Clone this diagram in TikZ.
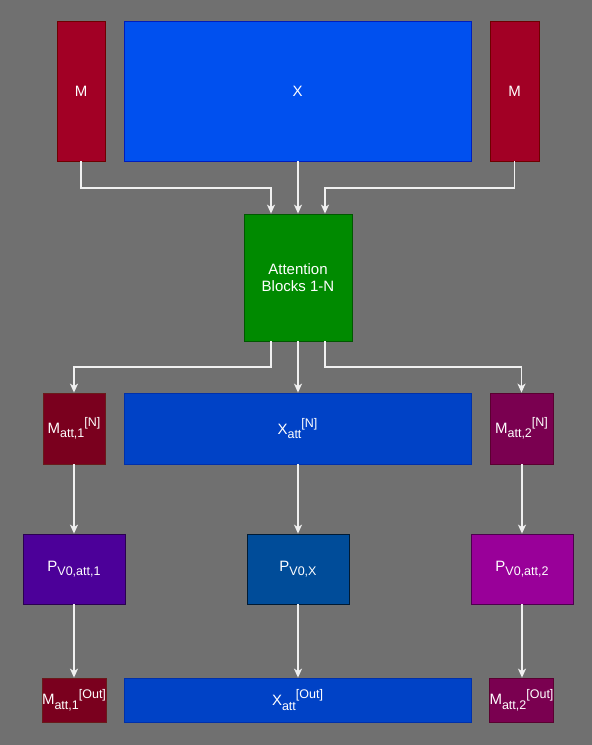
\documentclass[tikz,border=0pt]{standalone}
\usepackage{fontspec}
\setmainfont{Liberation Sans}
\usetikzlibrary{arrows.meta}
\definecolor{bg}{HTML}{707070}
\definecolor{mred}{HTML}{A20025}
\definecolor{mredb}{HTML}{6F0000}
\definecolor{xblue}{HTML}{0050EF}
\definecolor{xblueb}{HTML}{001DBC}
\definecolor{agreen}{HTML}{008A00}
\definecolor{agreenb}{HTML}{005700}
\definecolor{mdred}{HTML}{7A001E}
\definecolor{mdredb}{HTML}{6A1A1A}
\definecolor{xdblue}{HTML}{0042C6}
\definecolor{xdblueb}{HTML}{0030AA}
\definecolor{mpurp}{HTML}{7A0050}
\definecolor{mpurpb}{HTML}{5A0030}
\definecolor{pviol}{HTML}{4C0099}
\definecolor{pviolb}{HTML}{2A0050}
\definecolor{pblue}{HTML}{004C99}
\definecolor{pblueb}{HTML}{001A33}
\definecolor{pmag}{HTML}{990099}
\definecolor{pmagb}{HTML}{4C004C}
\definecolor{edge}{HTML}{F0F0F0}
\newcommand\mysb[1]{\raisebox{-0.3em}{\fontsize{12.5}{13}\selectfont #1}}
\newcommand\mysp[1]{\raisebox{0.45em}{\fontsize{12.5}{13}\selectfont #1}}
\begin{document}
\begin{tikzpicture}[x=1pt,y=-1pt,
  box/.style={draw,line width=0.8pt,inner sep=0pt,text=white,font=\fontsize{15}{17}\selectfont,align=center},
  conn/.style={draw=edge,line width=1.3pt,-{Stealth[length=9pt,width=8pt,inset=2.5pt]}}]
\useasboundingbox[fill=bg] (0,0) rectangle (592,745);
% row 1
\node[box,fill=mred,draw=mredb,minimum width=48pt,minimum height=140pt] (ml) at (81,91) {M};
\node[box,fill=xblue,draw=xblueb,minimum width=347pt,minimum height=140pt] (x) at (297.5,91) {X};
\node[box,fill=mred,draw=mredb,minimum width=49pt,minimum height=140pt] (mr) at (514.5,91) {M};
% attention
\node[box,fill=agreen,draw=agreenb,minimum width=108pt,minimum height=127pt] (att) at (298,277.5) {Attention\\Blocks 1-N};
% row 3
\node[box,fill=mdred,draw=mdredb,minimum width=62pt,minimum height=71pt] (ma1) at (74,428.5) {M\mysb{att,1}\mysp{[N]}};
\node[box,fill=xdblue,draw=xdblueb,minimum width=347pt,minimum height=71pt] (xa) at (297.5,428.5) {X\mysb{att}\mysp{[N]}};
\node[box,fill=mpurp,draw=mpurpb,minimum width=63pt,minimum height=71pt] (ma2) at (521.5,428.5) {M\mysb{att,2}\mysp{[N]}};
% row 4
\node[box,fill=pviol,draw=pviolb,minimum width=102pt,minimum height=70pt] (p1) at (74,569) {P\mysb{V0,att,1}};
\node[box,fill=pblue,draw=pblueb,minimum width=102pt,minimum height=70pt] (px) at (298,569) {P\mysb{V0,X}};
\node[box,fill=pmag,draw=pmagb,minimum width=102pt,minimum height=70pt] (p2) at (522,569) {P\mysb{V0,att,2}};
% row 5
\node[box,fill=mdred,draw=mdredb,minimum width=62pt,minimum height=44pt] (mo1) at (74,700) {M\mysb{att,1}\mysp{[Out]}};
\node[box,fill=xdblue,draw=xdblueb,minimum width=347pt,minimum height=44pt] (xo) at (297.5,700) {X\mysb{att}\mysp{[Out]}};
\node[box,fill=mpurp,draw=mpurpb,minimum width=63pt,minimum height=44pt] (mo2) at (521.5,700) {M\mysb{att,2}\mysp{[Out]}};
% connectors
\draw[conn] (ml.south) |- (271,188) -- (att.north -| 271,0);
\draw[conn] (x.south -| att.north) -- (att.north);
\draw[conn] (mr.south) |- (325,188) -- (att.north -| 325,0);
\draw[conn] (att.south -| 271,0) |- (74,367) -- (ma1.north);
\draw[conn] (att.south) -- (xa.north -| att.south);
\draw[conn] (att.south -| 325,0) |- (521.5,367) -- (ma2.north);
\draw[conn] (ma1) -- (p1);
\draw[conn] (xa.south -| px.north) -- (px);
\draw[conn] (ma2.south -| p2.north) -- (p2);
\draw[conn] (p1) -- (mo1);
\draw[conn] (px) -- (xo.north -| px.south);
\draw[conn] (p2.south) -- (mo2.north -| p2.south);
\end{tikzpicture}
\end{document}
